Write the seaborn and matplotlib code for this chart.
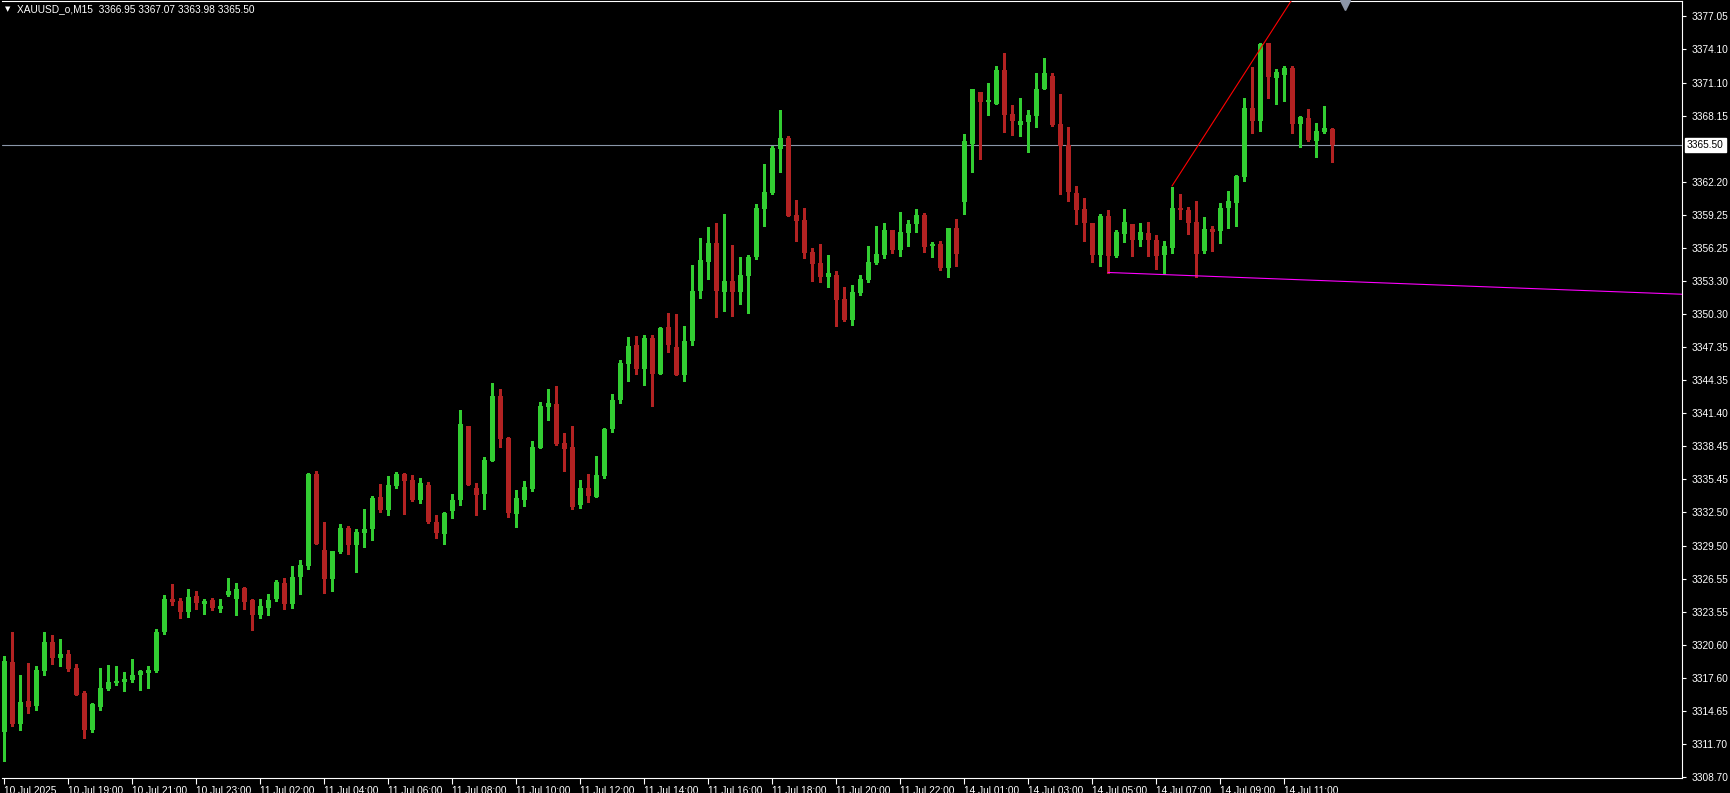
import numpy as np
import pandas as pd
import matplotlib
matplotlib.use("Agg")
import matplotlib.pyplot as plt
import seaborn as sns

# XAUUSD_o M15 bars, 10 Jul 17:00 -> 14 Jul 12:30
opens = [
    3312.78, 3319.05, 3313.50, 3315.54, 3315.09, 3318.24, 3320.85, 3319.44, 3319.77, 3318.51,
    3316.26, 3312.93, 3315.00, 3316.62, 3317.16, 3317.25, 3317.43, 3317.87, 3318.05, 3318.23,
    3321.74, 3324.71, 3324.53, 3323.54, 3324.98, 3324.26, 3324.62, 3323.81, 3325.07, 3324.71,
    3325.70, 3324.62, 3323.27, 3323.90, 3324.69, 3326.13, 3324.30, 3326.67, 3327.66, 3335.94,
    3329.10, 3326.49, 3328.92, 3331.08, 3329.55, 3330.63, 3330.99, 3333.87, 3332.70, 3334.86,
    3335.94, 3335.40, 3333.59, 3334.94, 3331.61, 3330.53, 3332.60, 3333.59, 3340.25, 3334.67,
    3334.13, 3337.10, 3342.95, 3339.17, 3332.33, 3333.59, 3334.58, 3338.27, 3341.96, 3342.20,
    3338.69, 3338.33, 3333.20, 3334.73, 3333.92, 3335.72, 3339.95, 3342.56, 3345.80, 3347.51,
    3345.35, 3348.14, 3344.90, 3349.13, 3347.33, 3344.81, 3347.90, 3352.36, 3354.97, 3356.68,
    3352.27, 3353.26, 3352.27, 3353.71, 3355.42, 3359.74, 3361.18, 3365.14, 3366.13, 3359.20,
    3358.75, 3355.87, 3354.88, 3353.63, 3353.81, 3351.65, 3349.76, 3352.19, 3353.36, 3354.89,
    3355.61, 3357.86, 3356.06, 3357.59, 3358.40, 3359.21, 3356.42, 3356.60, 3354.44, 3358.02,
    3360.36, 3365.58, 3370.26, 3369.36, 3369.18, 3372.24, 3368.28, 3367.29, 3367.56, 3368.10,
    3370.53, 3371.70, 3367.38, 3365.49, 3361.17, 3359.73, 3358.49, 3355.61, 3359.12, 3355.52,
    3357.50, 3358.40, 3356.96, 3357.59, 3356.96, 3355.61, 3356.24, 3359.84, 3359.66, 3358.58,
    3355.97, 3357.95, 3357.77, 3359.81, 3360.26, 3362.60, 3368.81, 3367.64, 3374.66, 3371.51,
    3371.78, 3372.41, 3367.37, 3367.91, 3365.84, 3366.65, 3366.95,
]
highs = [
    3319.59, 3321.75, 3317.88, 3318.99, 3318.69, 3321.75, 3321.48, 3321.12, 3320.13, 3318.87,
    3316.44, 3315.36, 3318.51, 3318.78, 3318.69, 3318.15, 3319.32, 3318.32, 3318.68, 3322.01,
    3325.07, 3326.06, 3324.80, 3325.61, 3325.43, 3324.71, 3324.80, 3324.71, 3326.60, 3326.15,
    3325.79, 3324.71, 3324.71, 3325.16, 3326.40, 3326.58, 3327.66, 3328.20, 3336.03, 3336.21,
    3331.62, 3329.01, 3331.44, 3331.26, 3330.99, 3332.79, 3333.96, 3335.04, 3335.76, 3336.12,
    3336.03, 3335.85, 3335.57, 3335.21, 3332.24, 3332.51, 3334.13, 3341.69, 3340.25, 3335.12,
    3337.46, 3344.12, 3343.58, 3339.26, 3334.49, 3335.30, 3338.90, 3342.41, 3343.58, 3343.82,
    3339.59, 3340.22, 3335.36, 3335.90, 3337.52, 3340.04, 3343.10, 3346.16, 3348.23, 3348.32,
    3348.41, 3348.41, 3349.13, 3350.39, 3350.30, 3349.22, 3354.70, 3357.13, 3358.12, 3358.48,
    3359.29, 3356.50, 3355.42, 3355.60, 3360.19, 3363.79, 3365.41, 3368.65, 3366.31, 3360.55,
    3359.83, 3356.23, 3356.59, 3355.61, 3354.17, 3352.73, 3352.91, 3353.81, 3356.42, 3358.22,
    3358.49, 3357.86, 3359.48, 3358.76, 3359.75, 3359.39, 3356.78, 3356.87, 3358.04, 3358.83,
    3366.48, 3370.53, 3370.26, 3371.07, 3372.60, 3373.77, 3369.09, 3369.72, 3368.64, 3371.97,
    3373.32, 3371.97, 3370.08, 3367.11, 3361.80, 3360.72, 3358.49, 3359.30, 3359.66, 3357.86,
    3359.75, 3358.40, 3358.49, 3358.58, 3357.41, 3356.87, 3361.73, 3361.10, 3359.93, 3360.47,
    3359.03, 3358.22, 3360.29, 3361.34, 3362.78, 3369.71, 3372.50, 3374.66, 3374.66, 3372.32,
    3372.59, 3372.59, 3368.09, 3368.72, 3367.46, 3368.99, 3367.07,
]
lows = [
    3310.16, 3313.29, 3312.93, 3314.49, 3314.73, 3317.88, 3318.87, 3318.69, 3318.24, 3316.08,
    3312.21, 3312.75, 3314.73, 3316.53, 3316.98, 3316.44, 3317.25, 3316.50, 3316.70, 3318.14,
    3321.56, 3324.17, 3323.00, 3323.09, 3323.81, 3323.36, 3323.72, 3323.54, 3324.98, 3323.27,
    3323.81, 3321.92, 3323.00, 3323.27, 3324.50, 3323.80, 3323.90, 3325.14, 3327.39, 3329.64,
    3325.23, 3325.41, 3328.83, 3328.74, 3327.12, 3329.37, 3330.00, 3332.52, 3332.25, 3334.68,
    3332.34, 3333.51, 3333.32, 3331.52, 3330.17, 3329.63, 3331.97, 3333.14, 3334.94, 3332.24,
    3332.78, 3337.10, 3338.36, 3332.06, 3331.16, 3333.05, 3334.40, 3338.27, 3340.79, 3338.51,
    3336.17, 3332.84, 3332.93, 3333.47, 3333.92, 3335.54, 3339.68, 3342.29, 3344.27, 3344.90,
    3343.91, 3342.02, 3344.90, 3346.88, 3344.81, 3344.27, 3347.50, 3351.73, 3353.44, 3350.02,
    3350.56, 3350.11, 3351.19, 3350.38, 3355.24, 3358.21, 3361.09, 3363.07, 3359.11, 3356.86,
    3355.33, 3353.26, 3353.17, 3352.73, 3349.22, 3349.67, 3349.31, 3352.01, 3353.18, 3354.80,
    3355.34, 3355.79, 3355.52, 3356.42, 3357.68, 3355.88, 3355.43, 3354.26, 3353.63, 3354.60,
    3359.28, 3363.06, 3364.23, 3368.19, 3369.18, 3366.66, 3366.39, 3366.30, 3364.86, 3367.11,
    3370.53, 3367.20, 3361.08, 3360.45, 3358.38, 3356.85, 3354.98, 3354.62, 3353.99, 3355.43,
    3356.78, 3355.52, 3356.42, 3355.52, 3354.35, 3353.90, 3355.79, 3358.85, 3357.50, 3353.63,
    3355.79, 3355.97, 3356.69, 3358.01, 3358.19, 3362.24, 3366.56, 3366.74, 3369.71, 3369.17,
    3369.44, 3366.56, 3365.30, 3365.84, 3364.40, 3366.56, 3363.98,
]
closes = [
    3319.14, 3313.50, 3315.45, 3315.00, 3318.33, 3320.85, 3319.44, 3319.77, 3318.42, 3316.08,
    3312.93, 3315.27, 3316.71, 3317.25, 3317.34, 3317.52, 3317.88, 3318.23, 3318.32, 3321.74,
    3324.71, 3324.44, 3323.54, 3324.89, 3324.35, 3324.53, 3323.90, 3324.08, 3325.43, 3325.61,
    3324.44, 3323.27, 3324.08, 3324.62, 3326.22, 3324.30, 3326.67, 3327.75, 3335.94, 3329.64,
    3326.49, 3329.01, 3331.08, 3329.55, 3330.72, 3330.99, 3333.78, 3332.70, 3334.95, 3335.94,
    3335.31, 3333.60, 3335.12, 3331.61, 3330.62, 3332.42, 3333.59, 3340.43, 3334.94, 3334.04,
    3337.19, 3342.95, 3339.08, 3332.42, 3333.77, 3334.76, 3338.36, 3342.05, 3342.32, 3338.60,
    3338.15, 3333.02, 3334.73, 3334.01, 3335.81, 3339.95, 3342.56, 3345.89, 3347.42, 3345.35,
    3348.14, 3344.90, 3349.04, 3347.51, 3344.81, 3347.87, 3352.36, 3355.15, 3356.68, 3352.36,
    3353.26, 3352.27, 3353.80, 3355.42, 3359.83, 3361.27, 3365.23, 3366.13, 3359.11, 3358.66,
    3355.78, 3354.79, 3353.62, 3353.99, 3351.56, 3349.76, 3352.28, 3353.45, 3354.98, 3355.70,
    3357.86, 3356.06, 3357.68, 3358.40, 3359.21, 3356.33, 3356.60, 3354.44, 3358.04, 3355.68,
    3365.85, 3370.53, 3369.36, 3369.54, 3372.24, 3368.19, 3367.65, 3367.65, 3368.19, 3370.53,
    3371.97, 3367.29, 3365.40, 3361.26, 3359.64, 3358.47, 3355.61, 3359.12, 3355.52, 3357.68,
    3358.58, 3356.96, 3357.68, 3356.96, 3355.52, 3356.42, 3359.84, 3359.66, 3358.49, 3355.70,
    3357.95, 3357.68, 3359.84, 3360.44, 3362.69, 3368.81, 3367.64, 3374.57, 3371.60, 3372.05,
    3372.41, 3367.37, 3368.00, 3365.93, 3366.74, 3367.01, 3365.50,
]

# time axis labels, one every 8 bars
tick_bars = [0, 8, 16, 24, 32, 40, 48, 56, 64, 72, 80, 88, 96, 104, 112, 120, 128, 136, 144, 152, 160]
tick_labels = [
    "10 Jul 2025", "10 Jul 19:00", "10 Jul 21:00", "10 Jul 23:00", "11 Jul 02:00",
    "11 Jul 04:00", "11 Jul 06:00", "11 Jul 08:00", "11 Jul 10:00", "11 Jul 12:00",
    "11 Jul 14:00", "11 Jul 16:00", "11 Jul 18:00", "11 Jul 20:00", "11 Jul 22:00",
    "14 Jul 01:00", "14 Jul 03:00", "14 Jul 05:00", "14 Jul 07:00", "14 Jul 09:00",
    "14 Jul 11:00",
]
price_ticks = [
    3377.05, 3374.10, 3371.10, 3368.15, 3362.20, 3359.25, 3356.25, 3353.30, 3350.30,
    3347.35, 3344.35, 3341.40, 3338.45, 3335.45, 3332.50, 3329.50, 3326.55, 3323.55,
    3320.60, 3317.60, 3314.65, 3311.70, 3308.70,
]
last_price = 3365.50

# trend lines (two anchor points each, drawn as rays to the right)
red_bars = [146, 157]
red_prices = [3361.82, 3374.10]
magenta_bars = [138, 149]
magenta_prices = [3354.05, 3353.75]

df = pd.DataFrame({"open": opens, "high": highs, "low": lows, "close": closes})
df["bar"] = np.arange(len(df))

sns.set_theme(style="dark", rc={
    "axes.facecolor": "black",
    "figure.facecolor": "black",
    "axes.edgecolor": "white",
    "xtick.bottom": True,
    "ytick.right": True,
})
plt.rcParams["font.family"] = ["Liberation Sans", "DejaVu Sans"]

W, H = 1730, 793
fig = plt.figure(figsize=(W / 100, H / 100), dpi=100)
ax = fig.add_axes([2 / W, (H - 778) / H, (1682 - 2) / W, (778 - 1) / H])
ax.set_facecolor("black")

up = df["close"] >= df["open"]
colors = np.where(up, "#32CD32", "#B22222")

# current price line behind the bars
ax.axhline(last_price, color="#8a96a8", lw=0.8, zorder=1)

ax.vlines(df["bar"], df["low"], df["high"], colors=colors, lw=0.8,
          antialiased=False, zorder=2)
body = (df["close"] - df["open"]).abs().clip(lower=0.09)
ax.bar(df["bar"], body, bottom=df[["open", "close"]].min(axis=1), width=0.625,
       color=colors, linewidth=0, antialiased=False, zorder=3)

x_end = 215
slope = (red_prices[1] - red_prices[0]) / (red_bars[1] - red_bars[0])
ax.plot([red_bars[0], x_end], [red_prices[0], red_prices[0] + slope * (x_end - red_bars[0])],
        color="#ff0000", lw=0.8, zorder=4)
slope_m = (magenta_prices[1] - magenta_prices[0]) / (magenta_bars[1] - magenta_bars[0])
ax.plot([magenta_bars[0], x_end],
        [magenta_prices[0], magenta_prices[0] + slope_m * (x_end - magenta_bars[0])],
        color="#ff00ff", lw=0.8, zorder=4)

ax.set_xlim(-0.25, 209.75)
ax.set_ylim(3308.63, 3378.44)

# chart-shift marker at the top
ax.plot([167.6], [3378.1], marker="v", ms=7, color="#8c96a8", clip_on=False, zorder=5)

ax.yaxis.tick_right()
ax.set_yticks(price_ticks)
ax.set_yticklabels([f"{p:.2f}" for p in price_ticks])
ax.set_xticks(tick_bars)
ax.set_xticklabels(tick_labels, ha="left")
ax.tick_params(axis="y", colors="white", labelcolor="white", length=3, width=0.8,
               direction="out", pad=4, labelsize=7.3)
ax.tick_params(axis="x", colors="white", labelcolor="white", length=4, width=0.8,
               direction="out", pad=1.5, labelsize=7.3)
for s in ax.spines.values():
    s.set_color("white")
    s.set_linewidth(0.8)
ax.spines["left"].set_visible(False)
ax.grid(False)

ax.annotate(f"{last_price:.2f}", xy=(1, last_price), xycoords=("axes fraction", "data"),
            xytext=(5, 0), textcoords="offset pixels", va="center", ha="left",
            fontsize=7.3, color="black",
            bbox=dict(boxstyle="square,pad=0.2", fc="white", ec="white"))

fig.text(5 / W, 1 - 9 / H, "\u25bc", color="white", fontsize=5, va="center", ha="left",
         family=["DejaVu Sans"])
fig.text(17 / W, 1 - 9 / H, "XAUUSD_o,M15  3366.95 3367.07 3363.98 3365.50",
         color="white", fontsize=7.3, va="center", ha="left")

fig.savefig("out.png", dpi=100, facecolor="black")
